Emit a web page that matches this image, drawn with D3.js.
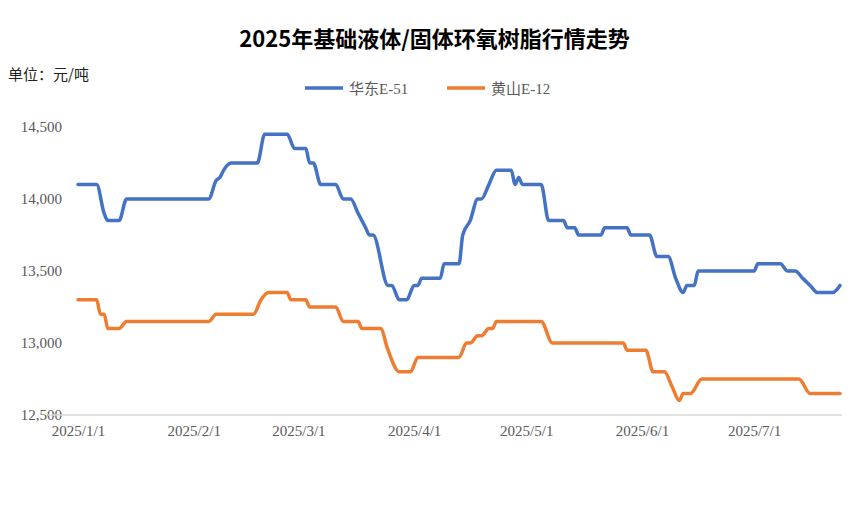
<!DOCTYPE html>
<html>
<head>
<meta charset="utf-8">
<script src="https://cdn.jsdelivr.net/npm/d3@7"></script>
<style>
  body { margin: 0; background: #fff; }
  text { font-family: "Liberation Serif", "Noto Sans CJK SC", serif; }
</style>
</head>
<body>
<div id="chart"></div>
<script>
// day offsets from 2025-01-01 and prices (元/吨)
const eastDays = [0, 5, 7, 8, 11, 13, 35, 37, 38, 39, 41, 48, 50, 56, 58, 61, 62, 63, 65, 69, 71, 73, 75, 77, 78, 79, 83, 84, 86, 88, 90, 91, 92, 97, 98, 102, 103, 105, 107, 108, 110, 112, 116, 117, 118, 119, 124, 126, 130, 131, 133, 134, 140, 141, 147, 148, 153, 155, 158, 160, 162, 163, 165, 166, 181, 182, 188, 190, 192, 194, 196, 198, 202, 204]
const eastVals = [14100, 14100, 13900, 13850, 13850, 14000, 14000, 14130, 14150, 14200, 14250, 14250, 14450, 14450, 14350, 14350, 14250, 14250, 14100, 14100, 14000, 14000, 13900, 13800, 13750, 13750, 13400, 13400, 13300, 13300, 13400, 13400, 13450, 13450, 13550, 13550, 13750, 13850, 14000, 14000, 14100, 14200, 14200, 14100, 14150, 14100, 14100, 13850, 13850, 13800, 13800, 13750, 13750, 13800, 13800, 13750, 13750, 13600, 13600, 13450, 13350, 13400, 13400, 13500, 13500, 13550, 13550, 13500, 13500, 13450, 13400, 13350, 13350, 13400]
const hsDays = [0, 5, 6, 7, 8, 11, 13, 35, 37, 47, 49, 51, 56, 57, 61, 62, 69, 71, 75, 76, 81, 83, 86, 89, 91, 102, 104, 105, 107, 108, 110, 111, 112, 124, 127, 146, 147, 152, 154, 157, 159, 161, 162, 164, 167, 193, 196, 204]
const hsVals = [13300, 13300, 13200, 13200, 13100, 13100, 13150, 13150, 13200, 13200, 13300, 13350, 13350, 13300, 13300, 13250, 13250, 13150, 13150, 13100, 13100, 12950, 12800, 12800, 12900, 12900, 13000, 13000, 13050, 13050, 13100, 13100, 13150, 13150, 13000, 13000, 12950, 12950, 12800, 12800, 12700, 12600, 12650, 12650, 12750, 12750, 12650, 12650]
const yTicks = [12500, 13000, 13500, 14000, 14500]
const xTickLabels = ['2025/1/1', '2025/2/1', '2025/3/1', '2025/4/1', '2025/5/1', '2025/6/1', '2025/7/1']
const seriesNames = ['华东E-51', '黄山E-12']
const colors = ['#4472C4', '#ED7D31']

const width = 865
const height = 505
const start = new Date(2025, 0, 1)
const toDate = d => d3.timeDay.offset(start, d)
const xTickDates = xTickLabels.map(s => { const p = s.split('/'); return new Date(+p[0], +p[1] - 1, +p[2]) })

const svg = d3.select('#chart').append('svg')
  .attr('width', width).attr('height', height)

const x = d3.scaleTime().domain([start, toDate(204)]).range([78, 840])
const y = d3.scaleLinear().domain([12500, 14500]).range([415, 127])

svg.append('text')
  .attr('x', width / 2 + 2).attr('y', 47)
  .attr('text-anchor', 'middle')
  .style('font-family', '"Noto Sans CJK SC", sans-serif')
  .style('font-weight', 'bold').style('font-size', '22px')
  .text('2025年基础液体/固体环氧树脂行情走势')

svg.append('text')
  .attr('x', 8).attr('y', 80)
  .style('font-family', '"Noto Sans CJK SC", sans-serif')
  .style('font-size', '15px').attr('fill', '#222')
  .text('单位：元/吨')

// legend
const legend = svg.append('g')
seriesNames.forEach((name, i) => {
  const lx = 305 + i * 142
  legend.append('line')
    .attr('x1', lx).attr('x2', lx + 38).attr('y1', 88).attr('y2', 88)
    .attr('stroke', colors[i]).attr('stroke-width', 3.5)
  legend.append('text')
    .attr('x', lx + 44).attr('y', 94)
    .style('font-size', '15px').attr('fill', '#595959')
    .text(name)
})

// axes
const yAxis = svg.append('g').attr('transform', 'translate(78,0)')
  .call(d3.axisLeft(y).tickValues(yTicks).tickSize(0).tickPadding(16))
yAxis.select('.domain').remove()
yAxis.selectAll('text').style('font-size', '15px').attr('fill', '#595959')
  .style('font-family', '"Liberation Serif", serif')

const xAxis = svg.append('g').attr('transform', 'translate(0,415)')
  .call(d3.axisBottom(x).tickValues(xTickDates).tickFormat((d, i) => xTickLabels[i]).tickSize(0).tickPadding(10))
xAxis.select('.domain').attr('stroke', '#d9d9d9').attr('stroke-width', 1.5)
  .attr('d', `M${x(start) - 30},0H${x(toDate(204)) + 2}`)
xAxis.selectAll('text').style('font-size', '15px').attr('fill', '#595959')
  .style('font-family', '"Liberation Serif", serif')

const line = d3.line()
  .x(d => x(toDate(d[0])))
  .y(d => y(d[1]))
  .curve(d3.curveMonotoneX)

const series = [d3.zip(eastDays, eastVals), d3.zip(hsDays, hsVals)]
series.forEach((data, i) => {
  svg.append('path').datum(data)
    .attr('d', line)
    .attr('fill', 'none')
    .attr('stroke', colors[i])
    .attr('stroke-width', 3.5)
    .attr('stroke-linejoin', 'round')
    .attr('stroke-linecap', 'round')
})
</script>
</body>
</html>
